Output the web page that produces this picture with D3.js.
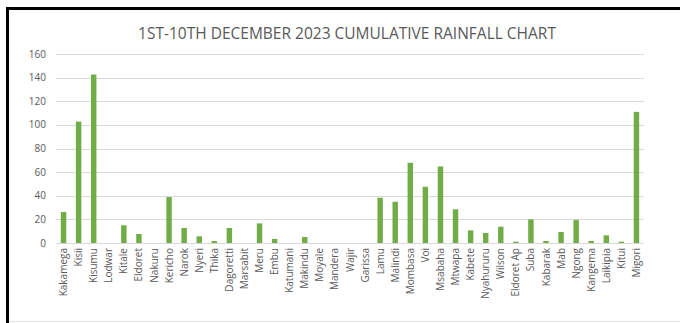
<!DOCTYPE html>
<html>
<head>
<meta charset="utf-8">
<script src="https://cdn.jsdelivr.net/npm/d3@7"></script>
<style>
  body { margin: 0; background: #fff; }
  svg { display: block; font-family: "Open Sans", sans-serif; }
</style>
</head>
<body>
<div id="chart"></div>
<script>
const stations = ["Kakamega", "Kisii", "Kisumu", "Lodwar", "Kitale", "Eldoret", "Nakuru", "Kericho",
  "Narok", "Nyeri", "Thika", "Dagoretti", "Marsabit", "Meru", "Embu", "Katumani", "Makindu",
  "Moyale", "Mandera", "Wajir", "Garissa", "Lamu", "Malindi", "Mombasa", "Voi", "Msabaha",
  "Mtwapa", "Kabete", "Nyahururu", "Wilson", "Eldoret Ap", "Suba", "Kabarak", "Mab", "Ngong",
  "Kangema", "Laikipia", "Kitui", "Migori"];
const rainfall = [26.2, 102.8, 142.6, 0, 15, 7.6, 0, 38.9,
  12.7, 5.6, 1.7, 12.7, 0, 16.6, 3.4, 0, 5.1,
  0, 0, 0, 0, 38.3, 34.9, 67.9, 47.6, 64.8,
  28.5, 10.7, 8.5, 13.8, 1.1, 20, 1.7, 9.3, 19.4,
  1.7, 6.5, 1.1, 111];
const yTicks = [0, 20, 40, 60, 80, 100, 120, 140, 160];
const title = "1ST-10TH DECEMBER 2023 CUMULATIVE RAINFALL CHART";

const width = 680, height = 323;
const margin = { left: 56, right: 36, top: 54, bottom: 80 };

const svg = d3.select("#chart").append("svg")
  .attr("width", width)
  .attr("height", height);

// frame of the pasted chart
svg.append("line").attr("x1", 7.5).attr("x2", width).attr("y1", 8.5).attr("y2", 8.5)
  .attr("stroke", "#000").attr("stroke-width", 3);
svg.append("line").attr("x1", 7.5).attr("x2", 7.5).attr("y1", 7).attr("y2", height)
  .attr("stroke", "#000").attr("stroke-width", 3);
svg.append("line").attr("x1", 9).attr("x2", width).attr("y1", 321.5).attr("y2", 321.5)
  .attr("stroke", "#e3e3e3").attr("stroke-width", 1);

const x = d3.scaleBand()
  .domain(stations)
  .range([margin.left, width - margin.right])
  .paddingInner(0.64)
  .paddingOuter(0.32);

const y = d3.scaleLinear()
  .domain([0, 160])
  .range([height - margin.bottom, margin.top]);

// gridlines
svg.append("g")
  .selectAll("line")
  .data(yTicks)
  .join("line")
  .attr("x1", margin.left)
  .attr("x2", width - margin.right)
  .attr("y1", d => Math.round(y(d)) + 0.5)
  .attr("y2", d => Math.round(y(d)) + 0.5)
  .attr("stroke", "#d9d9d9")
  .attr("stroke-width", 1);

// y labels
svg.append("g")
  .selectAll("text")
  .data(yTicks)
  .join("text")
  .attr("x", 46)
  .attr("y", d => y(d))
  .attr("dy", "0.35em")
  .attr("text-anchor", "end")
  .attr("fill", "#595959")
  .style("font-size", "10px")
  .text(d => d);

// bars
svg.append("g")
  .selectAll("rect")
  .data(rainfall)
  .join("rect")
  .attr("x", (d, i) => x(stations[i]))
  .attr("y", d => y(d))
  .attr("width", x.bandwidth())
  .attr("height", d => y(0) - y(d))
  .attr("fill", "#70ad47");

// category labels
svg.append("g")
  .selectAll("text")
  .data(stations)
  .join("text")
  .attr("transform", d => `translate(${x(d) + x.bandwidth() / 2},248) rotate(-90)`)
  .attr("dy", "0.35em")
  .attr("text-anchor", "end")
  .attr("fill", "#595959")
  .style("font-size", "10px")
  .text(d => d);

svg.append("text")
  .attr("x", 347)
  .attr("y", 39)
  .attr("text-anchor", "middle")
  .attr("fill", "#595959")
  .style("font-size", "15.5px")
  .text(title);
</script>
</body>
</html>
